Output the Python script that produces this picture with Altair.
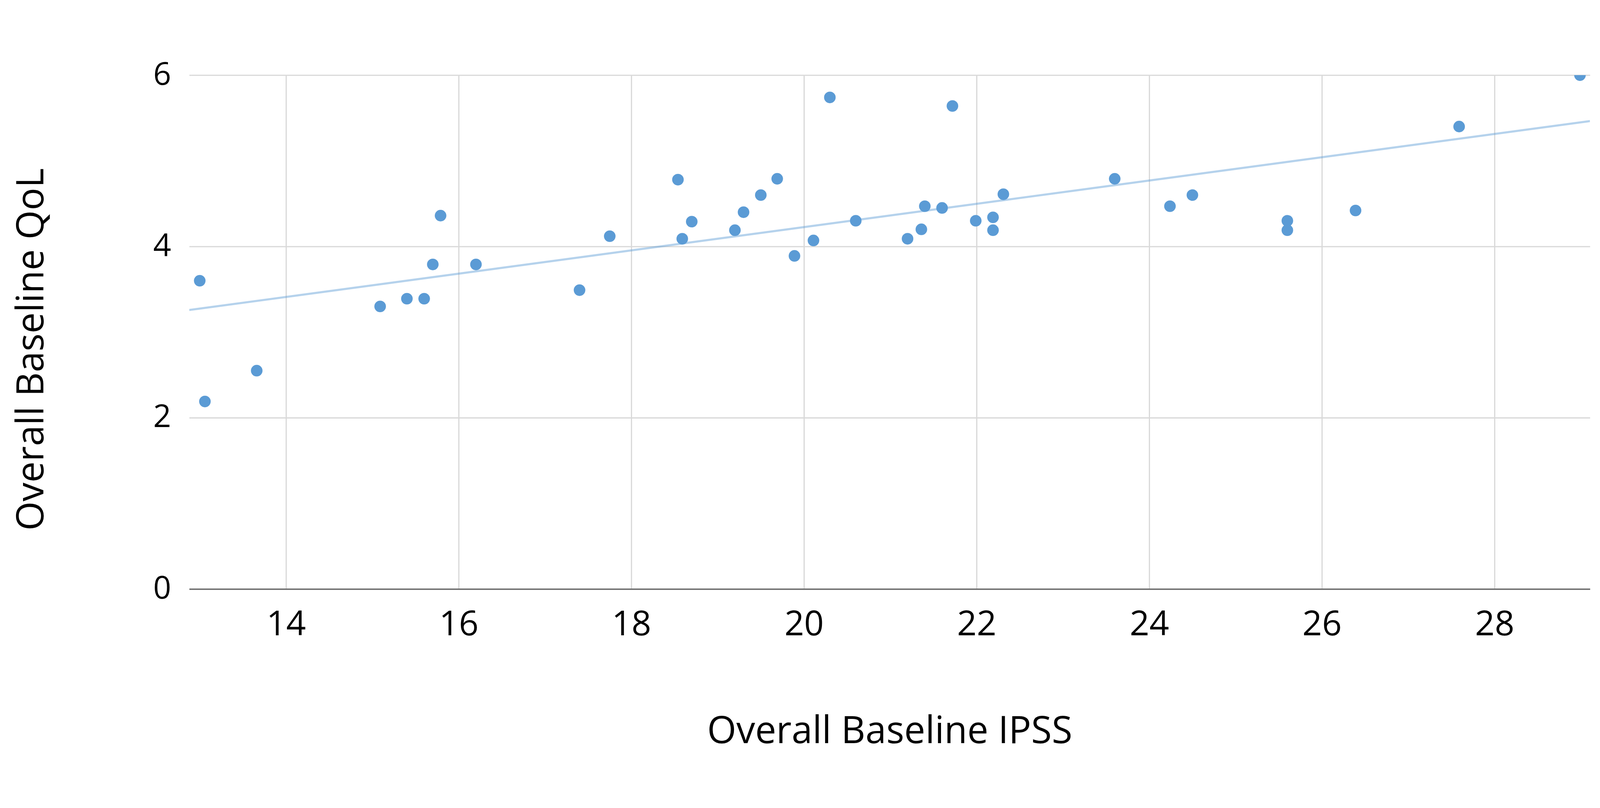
import pandas as pd
import altair as alt

# Overall baseline IPSS vs overall baseline QoL, one point per study arm
ipss = [13.00, 13.06, 13.66, 15.09, 15.40, 15.60, 15.70, 15.79, 16.20, 17.40,
        17.75, 18.54, 18.59, 18.70, 19.20, 19.30, 19.50, 19.69, 19.89, 20.11,
        20.30, 20.60, 21.20, 21.36, 21.40, 21.60, 21.72, 21.99, 22.19, 22.19,
        22.31, 23.60, 24.24, 24.50, 25.60, 25.60, 26.39, 27.59, 28.99]
qol = [3.60, 2.19, 2.55, 3.30, 3.39, 3.39, 3.79, 4.36, 3.79, 3.49,
       4.12, 4.78, 4.09, 4.29, 4.19, 4.40, 4.60, 4.79, 3.89, 4.07,
       5.74, 4.30, 4.09, 4.20, 4.47, 4.45, 5.64, 4.30, 4.34, 4.19,
       4.61, 4.79, 4.47, 4.60, 4.30, 4.19, 4.42, 5.40, 6.00]

x_ticks = [14, 16, 18, 20, 22, 24, 26, 28]
y_ticks = [0, 2, 4, 6]
x_domain = [12.878, 29.106]
y_domain = [0, 6]

_BLUE = "#5B9BD5"
_GRID = "#d9d9d9"
_FONT = "Open Sans"

df = pd.DataFrame({"ipss": ipss, "qol": qol})

x_enc = alt.X("ipss:Q", title="Overall Baseline IPSS",
              scale=alt.Scale(domain=x_domain, nice=False, zero=False),
              axis=alt.Axis(values=x_ticks, grid=True, domain=True, ticks=False,
                            tickSize=0, domainColor="#6b6b6b", domainWidth=4,
                            labelFontSize=100, labelPadding=134,
                            labelBaseline="alphabetic", labelColor="#000000",
                            titleFontSize=109, titleFontWeight="normal",
                            titleColor="#000000", titleBaseline="alphabetic",
                            titleY=446))
y_enc = alt.Y("qol:Q", title="Overall Baseline QoL",
              scale=alt.Scale(domain=y_domain, nice=False),
              axis=alt.Axis(values=y_ticks, grid=True, domain=False, ticks=False,
                            tickSize=0, labelFontSize=91, labelPadding=53,
                            labelColor="#000000", titleFontSize=109,
                            titleFontWeight="normal", titleColor="#000000",
                            titleBaseline="alphabetic", titleAngle=-90,
                            titleX=-424, titleY=795))

base = alt.Chart(df)

# linear trend line across the whole axis, like the spreadsheet trendline
trend = base.transform_regression("ipss", "qol", extent=x_domain).mark_line(
    color=_BLUE, opacity=0.45, strokeWidth=6, clip=True
).encode(x=x_enc, y=y_enc)

points = base.mark_circle(size=1130, color=_BLUE, opacity=1, clip=True).encode(
    x=x_enc, y=y_enc)

chart = (trend + points).properties(
    width=4065, height=1491,
    padding={"left": 28, "top": 26, "right": 20, "bottom": 20},
    background="white",
).configure_axis(
    gridColor=_GRID, gridWidth=3.5, labelFont=_FONT, titleFont=_FONT,
).configure_view(stroke=None)

chart.save("out.html", embed_options={"renderer": "svg", "actions": False})
